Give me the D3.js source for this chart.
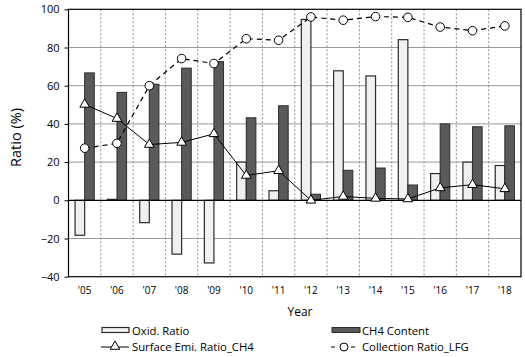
<!DOCTYPE html>
<html><head><meta charset="utf-8">
<script src="https://cdn.jsdelivr.net/npm/d3@7"></script>
<style>body{margin:0;background:#fff}svg{display:block;font-family:"Open Sans","DejaVu Sans",sans-serif}</style>
</head><body><svg id="c" width="525" height="357"></svg>
<script>
const years = ["'05","'06","'07","'08","'09","'10","'11","'12","'13","'14","'15","'16","'17","'18"];
const oxidRatio = [-18.3, 0.5, -11.7, -28.2, -32.8, 20, 5, 94.7, 67.8, 65.1, 84.1, 14, 20, 18.2];
const ch4Content = [66.7, 56.5, 60.8, 69.2, 72.6, 43.2, 49.5, 3.2, 15.7, 16.9, 8, 40, 38.5, 39];
const surfaceEmi = [50.2, 42.8, 29.2, 30.3, 34.8, 13, 15.5, 0, 2, 1, 0.7, 6.5, 8.2, 6];
const collection = [27.3, 29.8, 60, 74.2, 71.6, 84.6, 83.8, 96, 94.3, 96.2, 95.8, 90.7, 88.8, 91.3];
const yTicks = [-40, -20, 0, 20, 40, 60, 80, 100];

const svg = d3.select("#c");
const L = 68.5, R = 521, T = 9.3, B = 276.7;
const x = d3.scaleBand().domain(years).range([L, R]);
const y = d3.scaleLinear().domain([-40, 100]).range([B, T]);
const bw = 9.6;

// horizontal grid
svg.append("g").selectAll("line").data(yTicks.filter(d => d !== 0 && d !== 100 && d !== -40)).join("line")
  .attr("x1", L).attr("x2", R).attr("y1", d => y(d)).attr("y2", d => y(d))
  .attr("stroke", "#9a9a9a").attr("stroke-width", 1);
// vertical dotted grid
svg.append("g").selectAll("line").data(years.slice(1)).join("line")
  .attr("x1", d => x(d)).attr("x2", d => x(d)).attr("y1", T).attr("y2", B)
  .attr("stroke", "#8c8c8c").attr("stroke-width", 1).attr("stroke-dasharray", "2,2");

// bars
const bars = svg.append("g");
bars.selectAll(".ox").data(years).join("rect")
  .attr("x", (d) => x(d) + x.bandwidth()/2 - bw)
  .attr("width", bw)
  .attr("y", (d,i) => y(Math.max(0, oxidRatio[i])))
  .attr("height", (d,i) => Math.abs(y(oxidRatio[i]) - y(0)))
  .attr("fill", "#f0f0f0").attr("stroke", "#2b2b2b").attr("stroke-width", 1.2);
bars.selectAll(".ch").data(years).join("rect")
  .attr("x", (d) => x(d) + x.bandwidth()/2)
  .attr("width", bw)
  .attr("y", (d,i) => y(Math.max(0, ch4Content[i])))
  .attr("height", (d,i) => Math.abs(y(ch4Content[i]) - y(0)))
  .attr("fill", "#5a5a5a").attr("stroke", "#2b2b2b").attr("stroke-width", 1);

// zero line
svg.append("line").attr("x1", L).attr("x2", R).attr("y1", y(0)).attr("y2", y(0)).attr("stroke", "#000").attr("stroke-width", 1.2);

// lines
const cx = d => x(d) + x.bandwidth()/2;
const line = d3.line().x((d,i) => cx(years[i])).y(d => y(d));
svg.append("path").attr("d", line(collection)).attr("fill", "none").attr("stroke", "#000").attr("stroke-width", 1.2).attr("stroke-dasharray", "5,4");
svg.append("path").attr("d", line(surfaceEmi)).attr("fill", "none").attr("stroke", "#000").attr("stroke-width", 1);
const tri = d3.symbol().type(d3.symbolTriangle).size(40);
svg.append("g").selectAll("path").data(surfaceEmi).join("path")
  .attr("d", tri).attr("transform", (d,i) => `translate(${cx(years[i])},${y(d)})`)
  .attr("fill", "#fff").attr("stroke", "#000").attr("stroke-width", 1);
svg.append("g").selectAll("circle").data(collection).join("circle")
  .attr("cx", (d,i) => cx(years[i])).attr("cy", d => y(d)).attr("r", 4.3)
  .attr("fill", "#fff").attr("stroke", "#000").attr("stroke-width", 1);

// border
svg.append("rect").attr("x", L).attr("y", T).attr("width", R - L).attr("height", B - T)
  .attr("fill", "none").attr("stroke", "#000").attr("stroke-width", 1.2);

// y axis
const ya = d3.axisLeft(y).tickValues(yTicks).tickSize(4).tickPadding(5);
const gy = svg.append("g").attr("transform", `translate(${L},0)`).call(ya);
gy.select(".domain").remove();
gy.selectAll("text").attr("font-size", 11).attr("fill", "#000").attr("font-family", "Open Sans, sans-serif");
gy.selectAll("line").attr("stroke", "#000");

// x axis labels
const xa = d3.axisBottom(x).tickSize(0).tickPadding(10);
const gx = svg.append("g").attr("transform", `translate(0,${B})`).call(xa);
gx.select(".domain").remove();
gx.selectAll("text").attr("font-size", 10).attr("fill", "#000").attr("font-family", "Open Sans, sans-serif");

// axis titles
svg.append("text").attr("transform", "translate(21,137.5) rotate(-90)").attr("text-anchor", "middle")
  .attr("font-size", 14.5).text("Ratio (%)");
svg.append("text").attr("x", 300).attr("y", 315.5).attr("text-anchor", "middle").attr("font-size", 12).text("Year");

// legend
const lg = svg.append("g").attr("font-size", 11.3);
lg.append("rect").attr("x", 102).attr("y", 327.5).attr("width", 27).attr("height", 5).attr("fill", "#f0f0f0").attr("stroke", "#2b2b2b").attr("stroke-width", 1.2);
lg.append("text").attr("x", 132).attr("y", 334.5).text("Oxid. Ratio");
lg.append("rect").attr("x", 332).attr("y", 327.5).attr("width", 28).attr("height", 5).attr("fill", "#5a5a5a").attr("stroke", "#2b2b2b");
lg.append("text").attr("x", 362).attr("y", 334.5).text("CH4 Content");
lg.append("line").attr("x1", 101).attr("x2", 129).attr("y1", 347).attr("y2", 347).attr("stroke", "#000");
lg.append("path").attr("d", tri).attr("transform", "translate(115,346.5)").attr("fill", "#fff").attr("stroke", "#000");
lg.append("text").attr("x", 132).attr("y", 350.5).text("Surface Emi. Ratio_CH4");
lg.append("line").attr("x1", 331).attr("x2", 357).attr("y1", 347).attr("y2", 347).attr("stroke", "#000").attr("stroke-width", 1.2).attr("stroke-dasharray", "4,6").attr("stroke-dashoffset", 0);
lg.append("circle").attr("cx", 344).attr("cy", 347).attr("r", 4).attr("fill", "#fff").attr("stroke", "#000");
lg.append("text").attr("x", 362).attr("y", 350.5).text("Collection Ratio_LFG");
</script></body></html>
